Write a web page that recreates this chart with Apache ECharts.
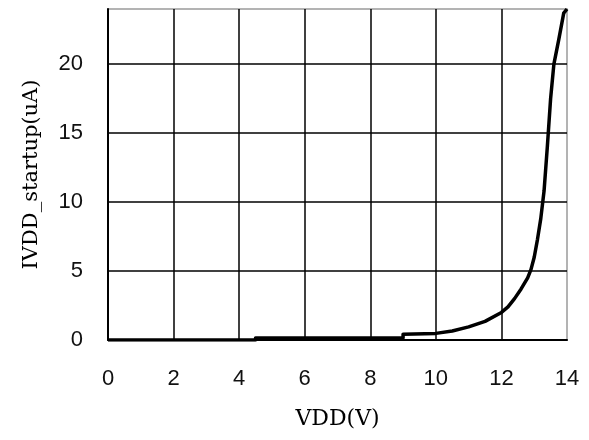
<!DOCTYPE html>
<html>
<head>
<meta charset="utf-8">
<script src="https://cdn.jsdelivr.net/npm/echarts@6/dist/echarts.min.js"></script>
<style>html,body{margin:0;padding:0;background:#fff}#c{width:589px;height:440px}</style>
</head>
<body>
<div id="c"></div>
<script>
const vdd = [0, 1, 2, 3, 4, 4.5, 4.5, 5, 6, 7, 8, 9, 9, 10, 10.5, 11, 11.5, 12, 12.2, 12.4, 12.6, 12.8, 12.9, 13, 13.1, 13.2, 13.3, 13.4, 13.5, 13.6, 13.75, 13.9, 14];
const ivdd = [0, 0, 0, 0, 0, 0, 0.15, 0.15, 0.15, 0.15, 0.15, 0.15, 0.42, 0.48, 0.65, 0.95, 1.35, 2.0, 2.4, 3.0, 3.7, 4.5, 5.1, 6.0, 7.3, 8.8, 10.8, 14.0, 17.5, 20.0, 21.8, 23.7, 24];
const xTicks = [0, 2, 4, 6, 8, 10, 12, 14];
const yTicks = [0, 5, 10, 15, 20];
const xName = 'VDD(V)';
const yName = 'IVDD_startup(uA)';

const nameFont = '"DejaVu Serif","Liberation Serif",serif';
const tickFont = '"Liberation Sans","DejaVu Sans",sans-serif';
const chart = echarts.init(document.getElementById('c'));
chart.setOption({
  animation: false,
  grid: {left: 108, right: 22, top: 9, bottom: 100, show: true, borderColor: '#9a9a9a', borderWidth: 1.5},
  xAxis: {
    type: 'value', min: 0, max: 14, interval: 2,
    name: xName, nameLocation: 'middle', nameGap: 68,
    nameTextStyle: {fontFamily: nameFont, fontSize: 22, color: '#000'},
    axisLine: {show: true, lineStyle: {color: '#000', width: 2}},
    axisTick: {show: false},
    axisLabel: {fontFamily: tickFont, fontSize: 22, color: '#111', margin: 28,
      formatter: v => xTicks.includes(v) ? String(v) : ''},
    splitLine: {show: true, showMaxLine: false, lineStyle: {color: '#000', width: 1.5}}
  },
  yAxis: {
    type: 'value', min: 0, max: 24, interval: 5,
    name: yName, nameLocation: 'middle', nameGap: 66, nameRotate: 90,
    nameTextStyle: {fontFamily: nameFont, fontSize: 21, color: '#000'},
    axisLine: {show: true, lineStyle: {color: '#000', width: 2}},
    axisTick: {show: false},
    axisLabel: {fontFamily: tickFont, fontSize: 22, color: '#111', margin: 25, showMaxLabel: false,
      formatter: v => yTicks.includes(v) ? String(v) : ''},
    splitLine: {show: true, showMaxLine: false, lineStyle: {color: '#000', width: 1.5}}
  },
  series: [{
    type: 'line',
    data: vdd.map((x, i) => [x, ivdd[i]]),
    showSymbol: false,
    smooth: false,
    lineStyle: {color: '#000', width: 3.5, join: 'round'},
    clip: true
  }]
});
</script>
</body>
</html>
